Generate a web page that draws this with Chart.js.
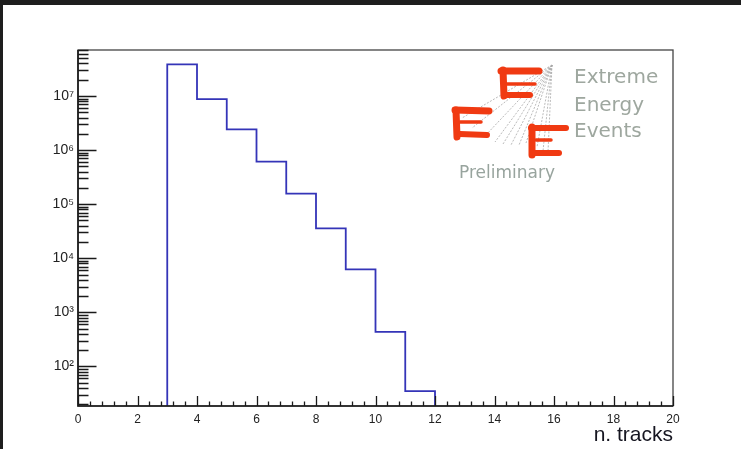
<!DOCTYPE html>
<html><head><meta charset="utf-8">
<script src="https://cdn.jsdelivr.net/npm/chart.js@4/dist/chart.umd.min.js"></script>
<style>
html,body{margin:0;padding:0;background:#1e1e1e;width:741px;height:449px;overflow:hidden}
#wrap{position:absolute;left:3px;top:5px;width:738px;height:444px;background:#fff}
canvas{display:block}
</style></head><body>
<div id="wrap"><canvas id="c" width="738" height="444"></canvas></div>
<script>
// ---- data ----
const binEdges = [3, 4, 5, 6, 7, 8, 9, 10, 11, 12];
const counts = [3.85e7, 8.8e6, 2.42e6, 6.1e5, 1.57e5, 3.58e4, 6.2e3, 435, 35];
const xTickLabels = [0, 2, 4, 6, 8, 10, 12, 14, 16, 18, 20];
const yDecades = [1e2, 1e3, 1e4, 1e5, 1e6, 1e7];
const xRange = [0, 20];
const yRange = [18.5, 7.1e7];
const xTitle = 'n. tracks';
const logoLines = ['Extreme', 'Energy', 'Events'];
const logoNote = 'Preliminary';

const supDigits = {'0':'⁰','1':'¹','2':'²','3':'³','4':'⁴','5':'⁵','6':'⁶','7':'⁷','8':'⁸','9':'⁹'};

// histogram outline points built from the bins
const points = [{x: binEdges[0], y: yRange[0]}];
counts.forEach((c, i) => points.push({x: binEdges[i], y: c}));
points.push({x: binEdges[binEdges.length - 1], y: counts[counts.length - 1]});
points.push({x: binEdges[binEdges.length - 1], y: yRange[0]});

Chart.defaults.font.family = '"Liberation Sans", Arial, sans-serif';

const framePlugin = {
  id: 'frame',
  afterDraw(chart) {
    const {ctx, chartArea: a, scales: {x, y}} = chart;
    ctx.save();
    // frame
    ctx.strokeStyle = '#444';
    ctx.lineWidth = 1.3;
    ctx.strokeRect(a.left, a.top, a.right - a.left, a.bottom - a.top);
    // axes
    ctx.strokeStyle = '#1a1a1a';
    ctx.lineWidth = 1.6;
    ctx.beginPath();
    ctx.moveTo(a.left, a.top); ctx.lineTo(a.left, a.bottom); ctx.lineTo(a.right, a.bottom);
    ctx.stroke();
    // x ticks
    ctx.lineWidth = 1.3;
    ctx.beginPath();
    for (let k = 0; k <= 50; k++) {
      const v = xRange[0] + k * 0.4;
      const px = Math.round(x.getPixelForValue(v)) + 0.5;
      const len = (k % 5 === 0) ? 10 : 4.5;
      ctx.moveTo(px, a.bottom); ctx.lineTo(px, a.bottom - len);
    }
    ctx.stroke();
    // y ticks
    ctx.beginPath();
    for (let d = 1; d <= 7; d++) {
      for (let m = 1; m <= 9; m++) {
        const v = m * Math.pow(10, d);
        if (v < yRange[0] || v > yRange[1]) continue;
        const py = Math.round(y.getPixelForValue(v)) + 0.5;
        const len = (m === 1) ? 18.5 : 10.5;
        ctx.moveTo(a.left, py); ctx.lineTo(a.left + len, py);
      }
    }
    ctx.stroke();

    // ---- logo ----
    const ox = -3, oy = -5; // page -> canvas offset
    // grey dashed fan
    ctx.strokeStyle = '#a8a8a8';
    ctx.lineWidth = 0.8;
    ctx.setLineDash([2, 1.5]);
    const apex = [552 + ox, 65 + oy];
    const ends = [[462,118],[472,128],[484,137],[495,142],[503,144],[511,145],[519,145],[526,143],[537,147],[543,151],[548,152]];
    ctx.beginPath();
    ends.forEach(e => { ctx.moveTo(apex[0], apex[1]); ctx.lineTo(e[0] + ox, e[1] + oy); });
    ctx.stroke();
    ctx.setLineDash([]);
    // red brush E's
    ctx.strokeStyle = '#f03a12';
    ctx.lineCap = 'round';
    ctx.lineJoin = 'round';
    const drawE = (segs) => {
      segs.forEach(s => {
        ctx.lineWidth = s[4];
        ctx.beginPath();
        ctx.moveTo(s[0] + ox, s[1] + oy); ctx.lineTo(s[2] + ox, s[3] + oy);
        ctx.stroke();
      });
    };
    drawE([[503,70,504,96,7],[501,71,539,71,7],[507,84,535,84,3.5],[506,95,530,95,6]]);
    drawE([[456,110,457,137,7],[455,110,489,111,7],[460,122,481,122,3.5],[460,134,487,135,6]]);
    drawE([[532,127,532,155,7],[531,128,566,128,6],[536,140,551,140,3.5],[535,153,559,153,6]]);
    // logo text
    ctx.fillStyle = '#9ea79f';
    ctx.textAlign = 'left';
    ctx.textBaseline = 'alphabetic';
    ctx.font = '20px "DejaVu Sans"';
    ctx.fillText(logoLines[0], 574 + ox, 83 + oy);
    ctx.fillText(logoLines[1], 574 + ox, 111 + oy);
    ctx.fillText(logoLines[2], 574 + ox, 137 + oy);
    ctx.fillStyle = '#98a49e';
    ctx.font = '17px "DejaVu Sans"';
    ctx.fillText(logoNote, 459 + ox, 178 + oy);
    ctx.restore();
  }
};

new Chart(document.getElementById('c'), {
  type: 'line',
  data: {
    datasets: [{
      data: points,
      stepped: true,
      borderColor: '#3434b8',
      borderWidth: 1.8,
      pointRadius: 0,
      fill: false,
      tension: 0
    }]
  },
  options: {
    responsive: false,
    animation: false,
    events: [],
    layout: {padding: {top: 45, right: 68, left: 0, bottom: 0}},
    plugins: {legend: {display: false}, tooltip: {enabled: false}, title: {display: false}},
    scales: {
      x: {
        type: 'linear',
        min: xRange[0], max: xRange[1],
        grid: {display: false, drawTicks: false},
        border: {display: false},
        afterBuildTicks: s => { s.ticks = xTickLabels.map(v => ({value: v})); },
        ticks: {
          autoSkip: false, maxRotation: 0, padding: 6,
          color: '#222', font: {size: 12},
          callback: v => String(v)
        },
        title: {
          display: true, text: xTitle, align: 'end',
          color: '#151520', font: {size: 21},
          padding: {top: 0, bottom: 1}
        },
        afterFit: s => { s.height = 43; }
      },
      y: {
        type: 'logarithmic',
        min: yRange[0], max: yRange[1],
        grid: {display: false, drawTicks: false},
        border: {display: false},
        afterBuildTicks: s => { s.ticks = yDecades.map(v => ({value: v})); },
        ticks: {
          autoSkip: false, padding: 4,
          color: '#222', font: {size: 14},
          callback: v => '10' + String(Math.round(Math.log10(v))).split('').map(c => supDigits[c]).join('')
        },
        afterFit: s => { s.width = 75; }
      }
    }
  },
  plugins: [framePlugin]
});
</script>
</body></html>
